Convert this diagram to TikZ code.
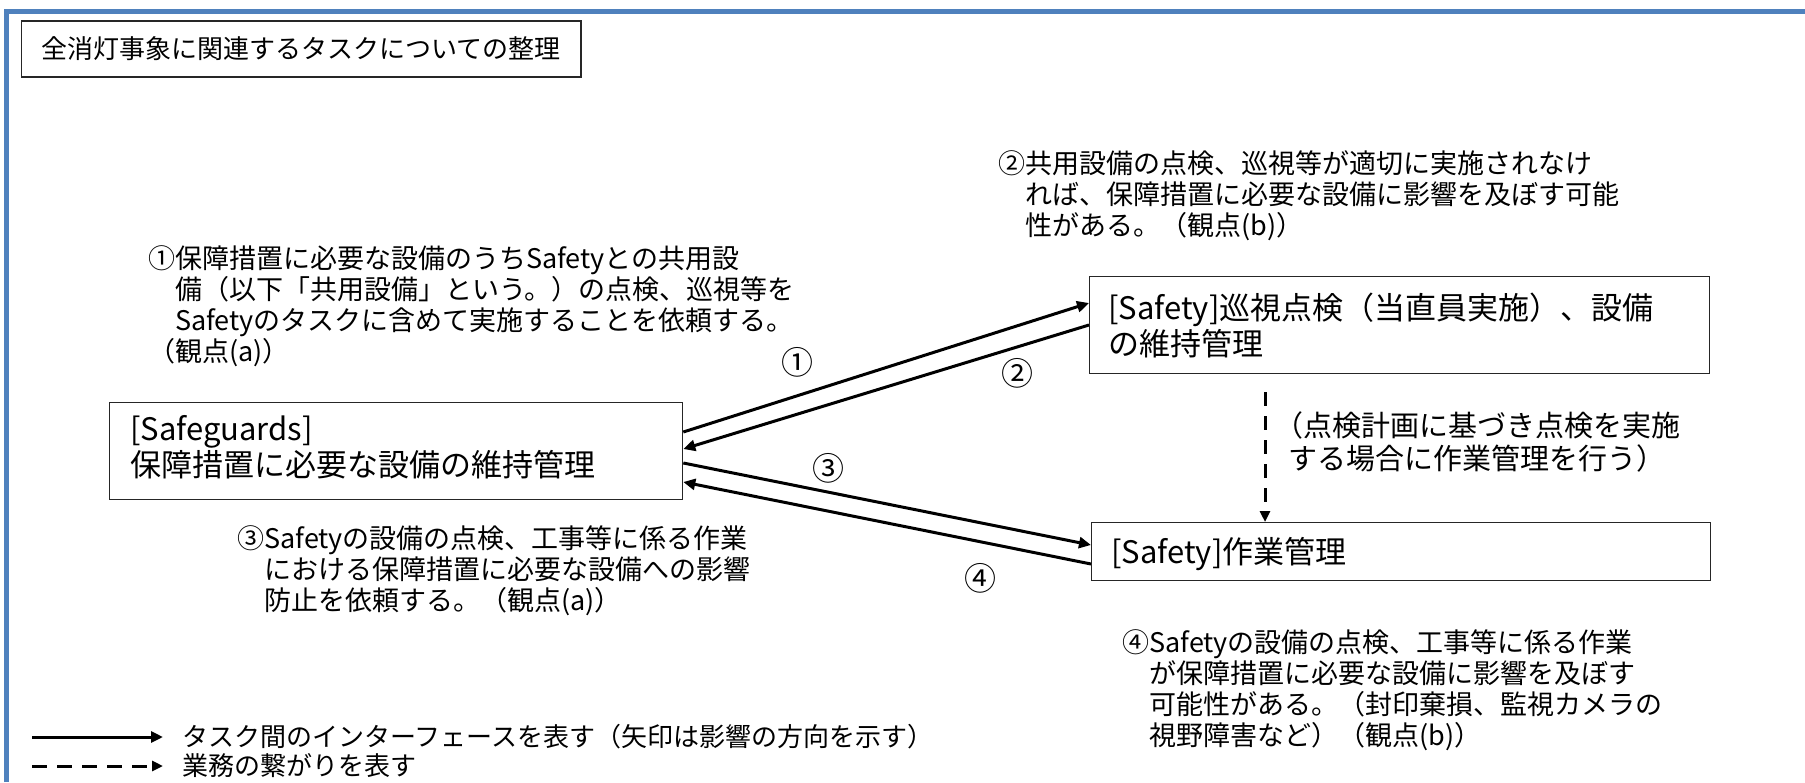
\documentclass[tikz,border=0pt]{standalone}
\usepackage{fontspec}
\setmainfont{Noto Sans CJK JP}
\usetikzlibrary{arrows.meta}
\definecolor{frameblue}{RGB}{79,129,189}
\begin{document}
\begin{tikzpicture}[x=1pt,y=-1pt,
  box/.style={draw=black!85, line width=1.3pt, rectangle, inner sep=0pt, anchor=north west},
  note/.style={anchor=west, align=left, inner sep=0pt, font=\fontsize{27}{31}\selectfont},
  legendtext/.style={anchor=west, inner sep=0pt, font=\fontsize{26}{30}\selectfont},
  boxtext/.style={anchor=west, align=left, inner sep=0pt, font=\fontsize{31}{36}\selectfont},
  num/.style={inner sep=0pt, font=\fontsize{32}{32}\selectfont},
  iface/.style={line width=3pt, -{Triangle[length=12pt,width=11pt]}},
  link/.style={line width=3pt, dash pattern=on 14pt off 10pt, -{Triangle[length=11pt,width=10pt]}},
]
\useasboundingbox (0,0) rectangle (1805,782);
% frame
\draw[frameblue, line width=5pt] (6.5,782) -- (6.5,11.5) -- (1805,11.5);

% title
\node[draw=black!85, line width=1.3pt, anchor=west, minimum height=56pt, inner xsep=20pt,
      font=\fontsize{26}{30}\selectfont] (title) at (21,49) {全消灯事象に関連するタスクについての整理};

% boxes
\node[box, minimum width=573pt, minimum height=97pt] (sg) at (109,402) {};
\node[boxtext] (sgt) at (130,447) {[Safeguards]\\保障措置に必要な設備の維持管理};

\node[box, minimum width=620pt, minimum height=97pt] (sft) at (1089,276) {};
\node[boxtext] (sftt) at (1108,325) {[Safety]巡視点検（当直員実施）、設備\\の維持管理};

\node[box, minimum width=619pt, minimum height=58pt] (wm) at (1091,522) {};
\node[boxtext] (wmt) at (1111,554) {[Safety]作業管理};

% notes
\node[note] (n1) at (148,306) {①保障措置に必要な設備のうちSafetyとの共用設\\
\hspace*{1em}備（以下「共用設備」という。）の点検、巡視等を\\
\hspace*{1em}Safetyのタスクに含めて実施することを依頼する。\\
（観点(a)）};

\node[note] (n2) at (998,196) {②共用設備の点検、巡視等が適切に実施されなけ\\
\hspace*{1em}れば、保障措置に必要な設備に影響を及ぼす可能\\
\hspace*{1em}性がある。（観点(b)）};

\node[note] (n3) at (237,571) {③Safetyの設備の点検、工事等に係る作業\\
\hspace*{1em}における保障措置に必要な設備への影響\\
\hspace*{1em}防止を依頼する。（観点(a)）};

\node[note] (n4) at (1122,690) {④Safetyの設備の点検、工事等に係る作業\\
\hspace*{1em}が保障措置に必要な設備に影響を及ぼす\\
\hspace*{1em}可能性がある。（封印棄損、監視カメラの\\
\hspace*{1em}視野障害など）（観点(b)）};

\node[anchor=west, align=left, inner sep=0pt, font=\fontsize{29}{33}\selectfont] (lbl) at (1274,442)
  {（点検計画に基づき点検を実施\\\hspace*{0.5em}する場合に作業管理を行う）};

% connectors
\draw[iface] (sg.east |- 0,432) -- (sft.west |- 0,303);
\draw[iface] (sft.west |- 0,325) -- (sg.east |- 0,449);
\draw[iface] (sg.east |- 0,463) -- (wm.west |- 0,545);
\draw[iface] (wm.west |- 0,564) -- (sg.east |- 0,482);

\coordinate (dstart) at (1265,392);
\draw[link] (dstart) -- (wm.north -| dstart);

% numbers
\node[num] (c1) at (797,362) {①};
\node[num] (c2) at (1017,373) {②};
\node[num] (c3) at (828,468) {③};
\node[num] (c4) at (980,578) {④};

% legend
\coordinate (la1) at (32,737);
\coordinate (la2) at (163,737);
\coordinate (lb1) at (32,766);
\coordinate (lb2) at (163,766);
\draw[iface] (la1) -- (la2);
\draw[link, dash pattern=on 15pt off 10pt] (lb1) -- (lb2);
\node[legendtext] (lt1) at (182,737) {タスク間のインターフェースを表す（矢印は影響の方向を示す）};
\node[legendtext] (lt2) at (182,766) {業務の繋がりを表す};
\end{tikzpicture}
\end{document}
